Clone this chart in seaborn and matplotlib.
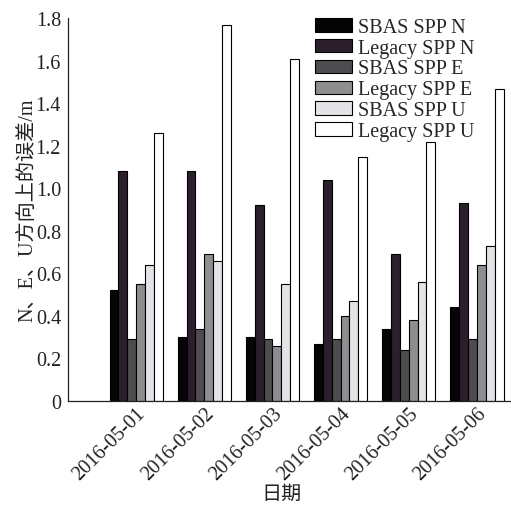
import matplotlib
matplotlib.use("Agg")
import matplotlib.pyplot as plt
import seaborn as sns
import pandas as pd

# Daily positioning error per direction (m)
dates = ["2016-05-01", "2016-05-02", "2016-05-03",
         "2016-05-04", "2016-05-05", "2016-05-06"]
series = ["SBAS SPP N", "Legacy SPP N", "SBAS SPP E",
          "Legacy SPP E", "SBAS SPP U", "Legacy SPP U"]
sbas_n = [0.52, 0.30, 0.30, 0.27, 0.34, 0.44]
legacy_n = [1.08, 1.08, 0.92, 1.04, 0.69, 0.93]
sbas_e = [0.29, 0.34, 0.29, 0.29, 0.24, 0.29]
legacy_e = [0.55, 0.69, 0.26, 0.40, 0.38, 0.64]
sbas_u = [0.64, 0.66, 0.55, 0.47, 0.56, 0.73]
legacy_u = [1.26, 1.77, 1.61, 1.15, 1.22, 1.47]
yticks = [0, 0.2, 0.4, 0.6, 0.8, 1.0, 1.2, 1.4, 1.6, 1.8]
ytick_labels = ["0", "0.2", "0.4", "0.6", "0.8", "1.0", "1.2", "1.4", "1.6", "1.8"]

colors = ["#050505", "#2b1f2b", "#4d4d4f", "#8e8e90", "#e4e4e8", "#ffffff"]

values = [sbas_n, legacy_n, sbas_e, legacy_e, sbas_u, legacy_u]
df = pd.DataFrame(
    [(d, s, v) for s, vals in zip(series, values) for d, v in zip(dates, vals)],
    columns=["date", "series", "error"],
)

sns.set_style("white")
plt.rcParams["font.family"] = ["Liberation Serif", "Noto Sans CJK SC"]
plt.rcParams["font.size"] = 14.5

fig = plt.figure(figsize=(5.11, 5.10), dpi=100)
ax = fig.add_axes([0.133, 0.212, 0.867, 0.750])

sns.barplot(data=df, x="date", y="error", hue="series", order=dates,
            hue_order=series, palette=colors, width=0.78, gap=0,
            edgecolor="black", linewidth=0.8, saturation=1, ax=ax)

ax.set_xlim(-1, 5.5)
ax.set_ylim(0, 1.8)
ax.set_yticks(yticks)
ax.set_yticklabels(ytick_labels)
ax.tick_params(axis="y", direction="out", length=3, width=0.8, pad=2,
               labelsize=14.5, colors="#222222")
ax.tick_params(axis="x", length=0, pad=2, labelsize=14.5, colors="#222222")
for lbl in ax.get_xticklabels():
    lbl.set_rotation(45)
    lbl.set_ha("right")
    lbl.set_rotation_mode("anchor")

for side in ["top", "right"]:
    ax.spines[side].set_visible(False)
for side in ["left", "bottom"]:
    ax.spines[side].set_color("#222222")
    ax.spines[side].set_linewidth(0.9)

ax.set_ylabel("N、E、U方向上的误差/m", fontsize=14.5, color="#222222",
              family=["Liberation Serif", "Noto Sans CJK SC"])
ax.set_xlabel("日期", fontsize=14.5, color="#222222",
              family=["Noto Sans CJK SC"])
ax.yaxis.set_label_coords(-0.07, 0.5)
ax.xaxis.set_label_coords(0.483, -0.215)

handles, labels = ax.get_legend_handles_labels()
ax.legend(handles, labels, loc="upper left", bbox_to_anchor=(0.617, 0.963),
          bbox_transform=fig.transFigure, frameon=False, fontsize=14.5,
          handlelength=1.8, handleheight=0.65, handletextpad=0.3,
          labelspacing=0.09, borderpad=0, borderaxespad=0)

fig.savefig("out.png", dpi=100)
